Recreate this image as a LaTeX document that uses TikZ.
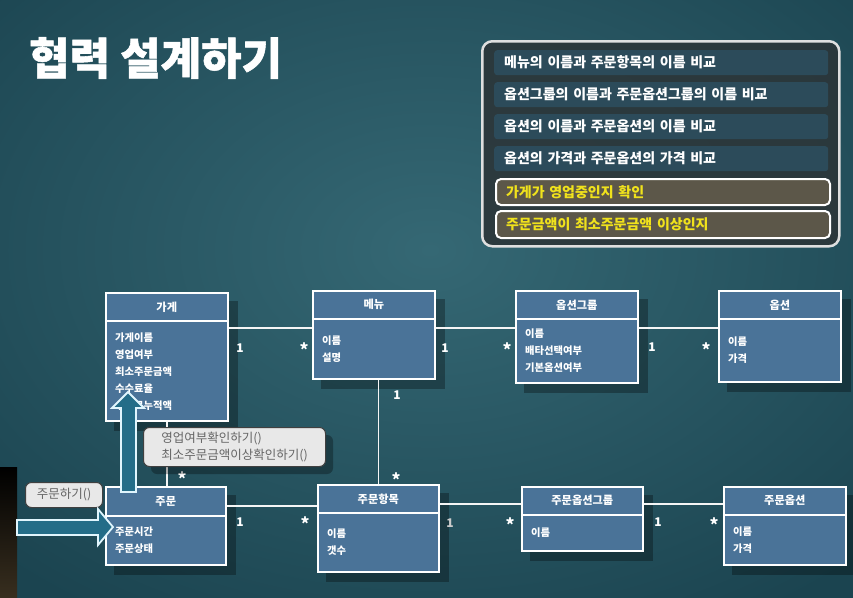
\documentclass[tikz,border=0pt]{standalone}
\usepackage{fontspec}
\setmainfont{Noto Sans CJK KR}
\newfontfamily\titlefont[BoldFeatures={FakeBold=1.2}]{Noto Sans CJK KR}
\usetikzlibrary{shadows}
\definecolor{bgmid}{HTML}{356874}
\definecolor{bgdark}{HTML}{1B4450}
\definecolor{cls}{HTML}{4A7398}
\definecolor{arrowc}{HTML}{246D88}
\definecolor{panelc}{HTML}{2C3538}
\definecolor{rowc}{HTML}{2D5265}
\definecolor{yrow}{HTML}{5C5749}
\definecolor{ytext}{HTML}{F0E21C}
\definecolor{callc}{HTML}{E8E8E8}
\definecolor{calltext}{HTML}{656565}
\definecolor{barbot}{HTML}{3A3020}
\pgfdeclarelayer{back}
\pgfdeclarelayer{shade}
\pgfsetlayers{back,shade,main}
\newcommand\attrlist[4]{%
  \foreach \t [count=\i] in {#4} {\node[attr] (#1-\i) at (#2,{#3+17*(\i-1)}) {\t};}}
\begin{document}
\begin{tikzpicture}[x=1pt,y=-1pt,
  hdr/.style={draw=white, line width=1.6pt, fill=cls, text=white,
    font=\bfseries\fontsize{11.2}{13}\selectfont, inner sep=0pt, anchor=north west},
  bodyb/.style={draw=white, line width=1.6pt, fill=cls, inner sep=0pt, anchor=north west},
  attr/.style={text=white, font=\bfseries\fontsize{10.3}{12}\selectfont, anchor=west, inner sep=0pt},
  conn/.style={draw=white!92!gray, line width=1.6pt},
  lbl/.style={text=white, font=\bfseries\fontsize{12}{12}\selectfont, inner sep=0pt},
  star/.style={text=white, font=\bfseries\fontsize{17}{17}\selectfont, inner sep=0pt, yshift=-3pt},
  callout/.style={draw=black!75, line width=1pt, fill=callc, rounded corners=6pt, text=calltext,
    font=\fontsize{12.5}{16.5}\selectfont, inner sep=0pt, anchor=north west, align=left},
  rowbox/.style={fill=rowc, fill opacity=0.75, text opacity=1, rounded corners=3pt, text=white,
    font=\bfseries\fontsize{14}{16}\selectfont, anchor=north west, inner xsep=10pt, inner ysep=0pt,
    text width=314pt, align=left},
  yrowbox/.style={rowbox, fill=yrow, fill opacity=1, draw=white, line width=2pt, rounded corners=5pt, text=ytext},
  bigarrow/.style={fill=arrowc, draw=white!88!cyan, line width=1.8pt, line join=miter}
]
\useasboundingbox (0,0) rectangle (853,597);
\begin{pgfonlayer}{back}
  \fill[bgdark] (-10,-10) rectangle (863,607);
  \shade[inner color=bgmid, outer color=bgdark] (430,250) ellipse (620pt and 430pt);
  \shade[top color=black, bottom color=barbot] (-5,467) rectangle (17,602);
\end{pgfonlayer}

% title
\node[anchor=west, text=white, font=\titlefont\bfseries\fontsize{44}{44}\selectfont, inner sep=0pt] (title) at (29,58) {협력 설계하기};

% panel
\node[draw=white!75!gray, line width=2.5pt, fill=panelc, fill opacity=0.88, rounded corners=10pt,
  anchor=north west, minimum width=357pt, minimum height=205pt, inner sep=0pt] (panel) at (481,40) {};
\node[rowbox, minimum height=25pt] (r1) at (494,50) {메뉴의 이름과 주문항목의 이름 비교};
\node[rowbox, minimum height=25pt] (r2) at (494,82) {옵션그룹의 이름과 주문옵션그룹의 이름 비교};
\node[rowbox, minimum height=25pt] (r3) at (494,114) {옵션의 이름과 주문옵션의 이름 비교};
\node[rowbox, minimum height=25pt] (r4) at (494,146) {옵션의 가격과 주문옵션의 가격 비교};
\node[yrowbox, minimum height=26pt] (r5) at (495,178) {가게가 영업중인지 확인};
\node[yrowbox, minimum height=27pt] (r6) at (495,210) {주문금액이 최소주문금액 이상인지};

% classes
\node[hdr, minimum width=122pt, minimum height=28pt] (gage) at (105,292) {가게};
\node[bodyb, minimum width=122pt, minimum height=100pt] (gageb) at (105,320) {};
\attrlist{gagea}{115}{338}{가게이름,영업여부,최소주문금액,수수료율,수수료누적액}

\node[hdr, minimum width=122pt, minimum height=28pt] (menu) at (312,290) {메뉴};
\node[bodyb, minimum width=122pt, minimum height=60pt] (menub) at (312,318) {};
\attrlist{menua}{322}{341}{이름,설명}

\node[hdr, minimum width=122pt, minimum height=28pt] (og) at (515,290) {옵션그룹};
\node[bodyb, minimum width=122pt, minimum height=64pt] (ogb) at (515,318) {};
\attrlist{oga}{525}{334}{이름,배타선택여부,기본옵션여부}

\node[hdr, minimum width=122pt, minimum height=28pt] (opt) at (718,290) {옵션};
\node[bodyb, minimum width=122pt, minimum height=63pt] (optb) at (718,318) {};
\attrlist{opta}{728}{342}{이름,가격}

\node[hdr, minimum width=120pt, minimum height=29pt] (jm) at (105,486) {주문};
\node[bodyb, minimum width=120pt, minimum height=49pt] (jmb) at (105,515) {};
\attrlist{jma}{115}{532}{주문시간,주문상태}

\node[hdr, minimum width=121pt, minimum height=28pt] (jhm) at (317,484) {주문항목};
\node[bodyb, minimum width=121pt, minimum height=59pt] (jhmb) at (317,512) {};
\attrlist{jhma}{327}{534}{이름,갯수}

\node[hdr, minimum width=121pt, minimum height=28pt] (jog) at (521,486) {주문옵션그룹};
\node[bodyb, minimum width=121pt, minimum height=36pt] (jogb) at (521,514) {};
\attrlist{joga}{531}{533}{이름}

\node[hdr, minimum width=122pt, minimum height=28pt] (jopt) at (723,486) {주문옵션};
\node[bodyb, minimum width=122pt, minimum height=50pt] (joptb) at (723,514) {};
\attrlist{jopta}{733}{532}{이름,가격}

% shadows
\begin{pgfonlayer}{shade}
  \foreach \a/\b in {gage/gageb, menu/menub, og/ogb, opt/optb, jm/jmb, jhm/jhmb, jog/jogb, jopt/joptb}
    \fill[black, opacity=0.3] ([shift={(9,9)}]\a.north west) rectangle ([shift={(9,9)}]\b.south east);
\end{pgfonlayer}

% connectors
\draw[conn] ([yshift=-8pt]gageb.north east) -- ([yshift=-10pt]menub.north west);
\draw[conn] ([yshift=-10pt]menub.north east) -- ([yshift=-10pt]ogb.north west);
\draw[conn] ([yshift=-10pt]ogb.north east) -- ([yshift=-10pt]optb.north west);
\draw[conn] (jhm.north |- menub.south) -- (jhm.north);
\draw[conn] (gageb.south) -- (gageb.south |- jm.north);
\draw[conn] ([yshift=-4.5pt]jm.east) -- ([yshift=-7pt]jhm.east -| jhm.west);
\draw[conn] ([yshift=-5pt]jhm.east) -- ([yshift=-3pt]jog.west);
\draw[conn] ([yshift=-3pt]jog.east) -- ([yshift=-3pt]jopt.west);

% multiplicities
\node[lbl] (m1a) at (240,348) {1};  \node[star] (m1b) at (304,347) {*};
\node[lbl] (m2a) at (445,348) {1};  \node[star] (m2b) at (507,347) {*};
\node[lbl] (m3a) at (652,347) {1};  \node[star] (m3b) at (706,347) {*};
\node[lbl] (m4a) at (397,395) {1};  \node[star] (m4b) at (396,477) {*};
\node[star] (m5b) at (182,476) {*};
\node[lbl] (m6a) at (240,522) {1};  \node[star] (m6b) at (305,521) {*};
\node[lbl, text=white!60!gray] (m7a) at (450,523) {1};  \node[star] (m7b) at (510,522) {*};
\node[lbl] (m8a) at (658,522) {1};  \node[star] (m8b) at (714,522) {*};

% callouts
\fill[black, opacity=0.3, rounded corners=6pt] (151,435) rectangle (333,474);
\node[callout, minimum width=182pt, minimum height=39pt] (c1) at (143,427) {영업여부확인하기()\\최소주문금액이상확인하기()};
\node[callout, minimum width=77pt, minimum height=25pt] (c2) at (25,482) {주문하기()};

% big arrows
\filldraw[bigarrow] (17,520) -- (98,520) -- (98,509) -- (113,527) -- (98,545) -- (98,535) -- (17,535) -- cycle;
\filldraw[bigarrow] (121,492) -- (121,408) -- (112,408) -- (128,392) -- (144,408) -- (136,408) -- (136,492) -- cycle;
\end{tikzpicture}
\end{document}
